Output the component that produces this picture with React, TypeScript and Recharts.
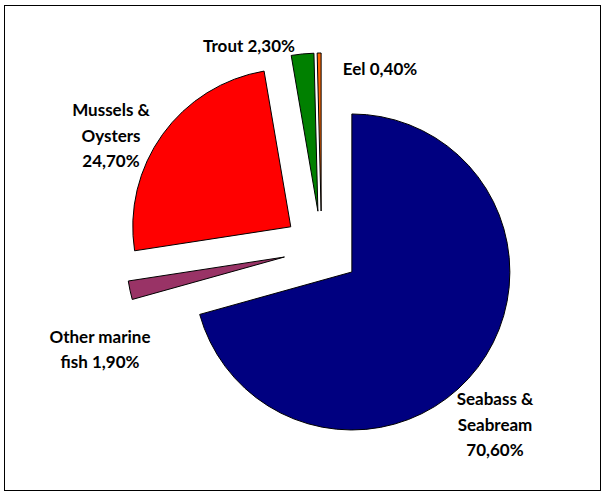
import React from 'react';
import { PieChart, Pie, Cell } from 'recharts';

const categories = ['Seabass & Seabream', 'Other marine fish', 'Mussels & Oysters', 'Trout', 'Eel'];
const shares = [70.6, 1.9, 24.7, 2.3, 0.4];
const colors = ['#000080', '#993366', '#FF0000', '#008000', '#FF6600'];
// how each label is broken into lines, value is appended at the end
const labelText = ['Seabass &\nSeabream\n', 'Other marine\nfish ', 'Mussels &\nOysters\n', 'Trout ', 'Eel '];

const W = 595;
const H = 484;
const CX = 316.6;
const CY = 243;
const R = 158;
const EXPLODE = 38;

// where Excel dropped the labels (chart coords, block centre)
const labelSpots = [
  { x: 490, y: 418 },
  { x: 95, y: 343 },
  { x: 106, y: 129 },
  { x: 244, y: 39 },
  { x: 375, y: 62 },
];

const data = categories.map((name, i) => ({ name, value: shares[i] }));
const total = shares.reduce((a, b) => a + b, 0);

// mid angle of each slice, clockwise from 12 o'clock
const midAngles = shares.map((v, i) => {
  const before = shares.slice(0, i).reduce((a, b) => a + b, 0);
  return ((before + v / 2) / total) * 2 * Math.PI;
});

const fmt = (v: number) => v.toFixed(2).replace('.', ',') + '%';

const renderLabel = (props: any) => {
  const i = props.index;
  const lines = (labelText[i] + fmt(shares[i])).split('\n');
  const spot = labelSpots[i];
  const lh = 25.5;
  const top = spot.y - ((lines.length - 1) * lh) / 2;
  return (
    <text
      key={'lbl' + i}
      x={spot.x}
      textAnchor="middle"
      fontFamily="Lato, 'Liberation Sans', Arial, sans-serif"
      fontWeight="bold"
      fontSize={17}
      fill="#000"
    >
      {lines.map((ln, k) => (
        <tspan key={k} x={spot.x} y={top + k * lh} dominantBaseline="central">
          {ln}
        </tspan>
      ))}
    </text>
  );
};

export default function App() {
  return (
    <div
      style={{
        position: 'absolute',
        left: 4,
        top: 5,
        width: W,
        height: H,
        border: '1px solid #000',
        background: '#fff',
      }}
    >
      <PieChart width={W} height={H} margin={{ top: 0, right: 0, bottom: 0, left: 0 }}>
        {data.map((_, s) => (
          <Pie
            key={s}
            data={data}
            dataKey="value"
            nameKey="name"
            cx={CX + EXPLODE * Math.sin(midAngles[s])}
            cy={CY - EXPLODE * Math.cos(midAngles[s])}
            outerRadius={R}
            startAngle={90}
            endAngle={-270}
            isAnimationActive={false}
            label={s === data.length - 1 ? renderLabel : false}
            labelLine={false}
          >
            {data.map((d, i) => (
              <Cell
                key={d.name}
                fill={i === s ? colors[i] : 'none'}
                stroke={i === s ? '#000' : 'none'}
                strokeWidth={1}
              />
            ))}
          </Pie>
        ))}
      </PieChart>
    </div>
  );
}
